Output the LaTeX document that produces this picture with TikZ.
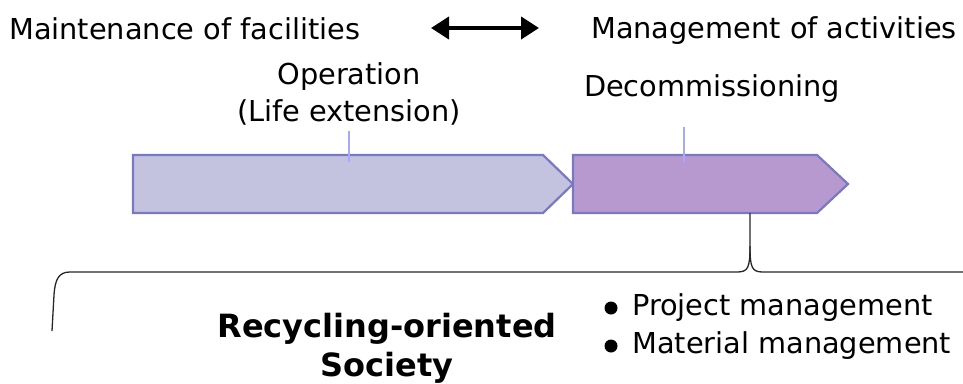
\documentclass[tikz,border=0pt]{standalone}
\usepackage{fontspec}
\setmainfont{DejaVu Sans}
\usetikzlibrary{arrows.meta}
\definecolor{opfill}{HTML}{C3C3E0}
\definecolor{decfill}{HTML}{B799D0}
\definecolor{edge}{HTML}{7878C4}
\definecolor{tick}{HTML}{A8A8FF}
\tikzset{
  lbl/.style={inner sep=0pt, font=\fontsize{28.8}{37}\selectfont, align=center},
  boldlbl/.style={inner sep=0pt, font=\fontsize{32}{39}\selectfont\bfseries, align=center},
  phase/.style={draw=edge, line width=2.2pt, line join=miter},
  ticker/.style={draw=tick, line width=1.2pt},
  brace/.style={draw=black!85, line width=1.3pt},
  dot/.style={circle, fill=black, inner sep=0pt, minimum size=13pt},
}
\begin{document}
\begin{tikzpicture}[x=1pt,y=-1pt]
\useasboundingbox (0,0) rectangle (963,383);
% top labels
\node[lbl, anchor=west] (maint) at (9,29) {Maintenance of facilities};
\node[lbl, anchor=east] (manage) at (957,31) {Management of activities};
\coordinate (dl) at (431,28);
\coordinate (dr) at (539,28);
\draw[line width=4pt, {Triangle[width=22pt,length=18pt]}-{Triangle[width=22pt,length=18pt]}] (dl) -- (dr);
% phase labels
\node[lbl] (oper) at (349,94) {Operation\\(Life extension)};
\node[lbl] (decom) at (712,89) {Decommissioning};
% phase arrows
\coordinate (o1) at (133,155);
\coordinate (o2) at (543,155);
\coordinate (o3) at (573,184);
\coordinate (o4) at (543,213);
\coordinate (o5) at (133,213);
\coordinate (d1) at (573,155);
\coordinate (d2) at (817,155);
\coordinate (d3) at (848,184);
\coordinate (d4) at (817,213);
\coordinate (d5) at (573,213);
\path[phase, fill=opfill] (o1) -- (o2) -- (o3) -- (o4) -- (o5) -- cycle;
\path[phase, fill=decfill] (d1) -- (d2) -- (d3) -- (d4) -- (d5) -- cycle;
% ticks
\coordinate (t1a) at (349,131);
\coordinate (t1b) at (349,162);
\coordinate (t2a) at (684,127);
\coordinate (t2b) at (684,162);
\draw[ticker] (t1a) -- (t1b);
\draw[ticker] (t2a) -- (t2b);
% brace
\coordinate (bt) at (750,213);
\coordinate (bm) at (750,246);
\coordinate (bl) at (52,331);
\coordinate (br) at (963,272);
\draw[brace] (bt) -- (bm) .. controls (750,268) and (748,272) .. (737,272) -- (70,272) .. controls (59,272) and (55,279) .. (54,295) -- (bl);
\draw[brace] (bm) .. controls (750,268) and (752,272) .. (763,272) -- (br);
% bottom
\node[boldlbl] (soc) at (387,348) {Recycling-oriented\\Society};
\node[dot] (b1) at (611,308) {};
\node[dot] (b2) at (611,346) {};
\node[lbl, anchor=west] (pm) at (632,308) {Project management};
\node[lbl, anchor=west] (mm) at (632,346) {Material management};
\end{tikzpicture}
\end{document}
